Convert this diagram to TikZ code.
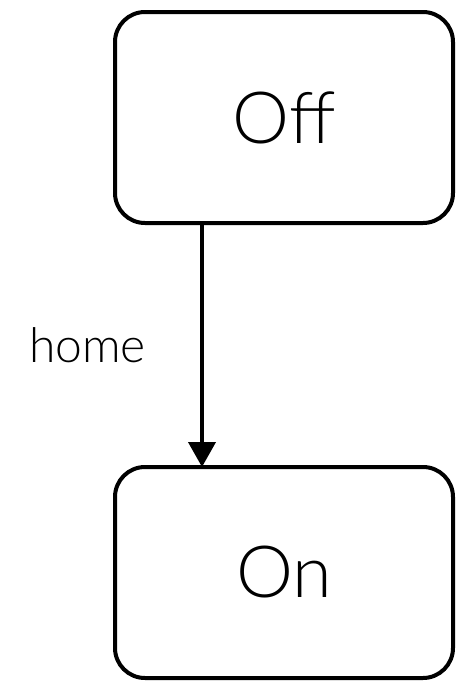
\documentclass[tikz,border=0pt]{standalone}
\usepackage{fontspec}
\setmainfont{Lato}[UprightFont={* Light}]
\usetikzlibrary{positioning,arrows.meta}

\tikzset{
	mode/.style={draw,line width=4pt,rounded corners=30pt,
		minimum width=338pt,minimum height=211pt,inner sep=0pt,outer sep=0pt,
		font=\fontsize{72}{80}\selectfont},
	trans/.style={line width=4pt,-{Triangle[width=27pt,length=25pt]}},
	event/.style={font=\fontsize{48}{54}\selectfont,inner sep=0pt}
}

\begin{document}
\begin{tikzpicture}
	\useasboundingbox (0pt,0pt) rectangle (460pt,-681pt);

	\node[mode] (off) at (284pt,-117.5pt) {Off};
	\node[mode,below=244pt of off] (on) {On};

	\draw[trans] ([xshift=-82pt]off.south) -- ([xshift=-82pt]on.north)
		node[event,midway,left=54pt] (home) {home};
\end{tikzpicture}
\end{document}
